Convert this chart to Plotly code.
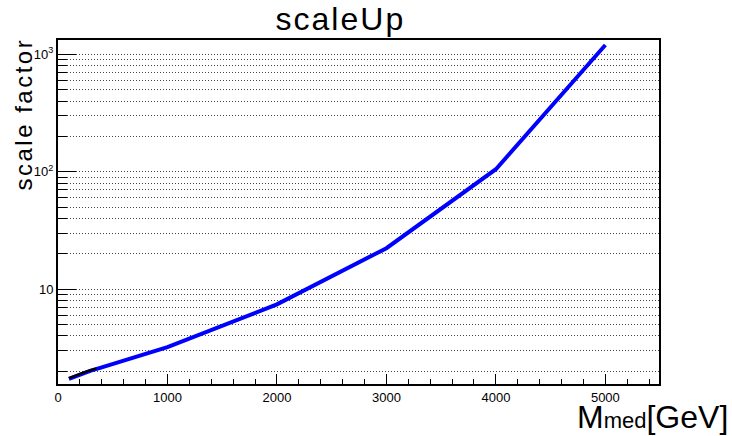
import plotly.graph_objects as go

# Data
mass = [100, 200, 300, 400, 500, 600, 700, 800, 900, 1000, 2000, 3000, 4000, 5000]
scale_up = [1.72, 1.88, 2.02, 2.15, 2.3, 2.45, 2.6, 2.78, 2.98, 3.2, 7.4, 22.3, 105, 1200]
mass_low = [100, 150, 200, 250, 300, 350]
scale_low = [1.74, 1.82, 1.9, 1.97, 2.04, 2.1]

y_major = [10, 100, 1000]
y_major_text = ["10", "10<sup>2</sup>", "10<sup>3</sup>"]
y_minor = [m * d for d in (1, 10, 100) for m in range(2, 10)]
y_minor = [v for v in y_minor if v <= 1300]

fig = go.Figure()
fig.add_trace(go.Scatter(x=mass, y=scale_up, mode="lines",
                         line=dict(color="#0000ff", width=4), showlegend=False))
fig.add_trace(go.Scatter(x=mass_low, y=scale_low, mode="lines",
                         line=dict(color="black", width=2.5), showlegend=False))

font = "Liberation Sans, Arial, sans-serif"
fig.update_layout(
    width=732, height=436,
    margin=dict(l=58, r=73, t=40, b=52),
    paper_bgcolor="white", plot_bgcolor="white",
    font=dict(family=font, color="black", size=13),
    title=dict(text="<span style='letter-spacing:2px'>scaleUp</span>",
               x=0.465, xanchor="center",
               y=0.982, yanchor="top", font=dict(size=32, family=font)),
    xaxis=dict(range=[0, 5490], showgrid=False, zeroline=False,
               showline=True, linecolor="black", linewidth=2, mirror=True,
               tickmode="linear", tick0=0, dtick=1000, ticks="inside",
               ticklen=10, tickwidth=1, tickcolor="black",
               tickfont=dict(size=13),
               minor=dict(tickmode="linear", tick0=0, dtick=200, ticks="inside",
                          ticklen=5, tickcolor="black", showgrid=False)),
    yaxis=dict(type="log", range=[0.191, 3.122], zeroline=False,
               showline=True, linecolor="black", linewidth=2, mirror=True,
               tickmode="array", tickvals=y_major, ticktext=y_major_text,
               ticks="inside", ticklen=18, tickwidth=1, tickcolor="black",
               tickfont=dict(size=13),
               showgrid=True, gridcolor="#444", griddash="1px,2px", gridwidth=1,
               minor=dict(tickmode="array", tickvals=y_minor, ticks="inside",
                          ticklen=9, tickcolor="black", showgrid=True,
                          gridcolor="#444", griddash="1px,2px", gridwidth=1)),
    annotations=[
        dict(text="<span style='letter-spacing:2.5px'>scale factor</span>",
             textangle=-90, xref="paper", yref="paper",
             x=-0.058, y=1.012, xanchor="center", yanchor="top", showarrow=False,
             font=dict(size=24, family=font)),
        dict(text="M<span style='font-size:22px'>med</span>[GeV]",
             xref="paper", yref="paper",
             x=1.118, y=-0.155, xanchor="right", yanchor="bottom", showarrow=False,
             font=dict(size=32, family=font)),
    ],
)

fig.write_html("out.html", config={"displayModeBar": False},
               post_script="document.body.style.margin='0px';document.body.style.overflow='hidden';")
